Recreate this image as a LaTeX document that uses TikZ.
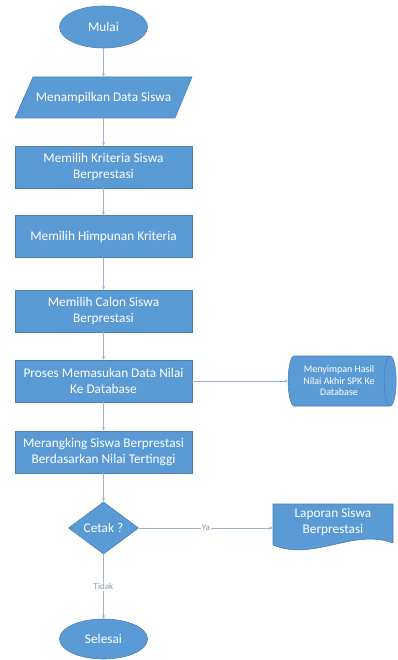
\documentclass[tikz,border=0pt]{standalone}
\usepackage{fontspec}
\setmainfont{Carlito}
\usetikzlibrary{shapes.geometric,arrows.meta}
\definecolor{fc}{HTML}{5B9BD5}
\definecolor{bc}{HTML}{4A7EBB}
\definecolor{lc}{HTML}{9DB3CC}
\definecolor{lt}{HTML}{8A9BB0}
\begin{document}
\begin{tikzpicture}[x=1pt,y=-1pt,
 every node/.style={font=\fontsize{13.3}{16}\selectfont, text=white, align=center},
 box/.style={rectangle, fill=fc, draw=bc, line width=0.6pt, minimum width=177pt, minimum height=42pt, inner sep=0pt},
 term/.style={ellipse, fill=fc, draw=bc, line width=0.6pt, minimum width=88pt, minimum height=42pt, inner sep=0pt},
 dec/.style={diamond, fill=fc, draw=bc, line width=0.6pt, minimum width=70pt, minimum height=52pt, inner sep=0pt},
 store/.style={cylinder, shape border rotate=0, aspect=0.4, fill=fc, draw=bc, line width=0.6pt, minimum width=50pt, minimum height=108pt, inner sep=0pt, font=\fontsize{10}{11.5}\selectfont},
 shapefill/.style={fill=fc, draw=bc, line width=0.6pt},
 conn/.style={draw=lc, line width=0.6pt, -{Stealth[length=3.5pt,width=3pt]}},
 lbl/.style={fill=white, text=lt, font=\fontsize{9}{10}\selectfont, inner sep=1pt}
]
\useasboundingbox (0,0) rectangle (398,660);
\node[term] (mulai) at (103.5,27) {Mulai};
\filldraw[shapefill] (15,118) -- (33,77) -- (192,77) -- (175,118) -- cycle;
\node[minimum width=160pt, minimum height=41pt, inner sep=0pt] (tampil) at (103.5,97.5) {Menampilkan Data Siswa};
\node[box] (k1) at (103.5,167) {Memilih Kriteria Siswa\\Berprestasi};
\node[box] (k2) at (103.5,236.5) {Memilih Himpunan Kriteria};
\node[box] (k3) at (103.5,311) {Memilih Calon Siswa\\Berprestasi};
\node[box] (k4) at (103.5,381) {Proses Memasukan Data Nilai\\Ke Database};
\node[box] (k5) at (103.5,452) {Merangking Siswa Berprestasi\\Berdasarkan Nilai Tertinggi};
\node[dec] (cetak) at (103.5,528) {Cetak ?};
\node[term, minimum height=40pt] (selesai) at (103.5,639) {Selesai};
\node[store] (db) at (339,381) {Menyimpan Hasil\\Nilai Akhir SPK Ke\\Database};
\filldraw[shapefill] (273,504) -- (393,504) -- (393,543) .. controls (353,528) and (313,562) .. (273,545) -- cycle;
\node[minimum width=120pt, minimum height=44pt, inner sep=0pt] (doc) at (333,522) {Laporan Siswa\\Berprestasi};
\draw[conn] (mulai) -- (tampil);
\draw[conn] (tampil) -- (k1);
\draw[conn] (k1) -- (k2);
\draw[conn] (k2) -- (k3);
\draw[conn] (k3) -- (k4);
\draw[conn] (k4) -- (k5);
\draw[conn] (k5) -- (cetak);
\draw[conn] (k4.east) -- (db.west);
\draw[conn] (cetak.east) -- node[lbl] {Ya} (cetak.east -| doc.west);
\draw[conn] (cetak) -- node[lbl] {Tidak} (selesai);
\end{tikzpicture}
\end{document}
